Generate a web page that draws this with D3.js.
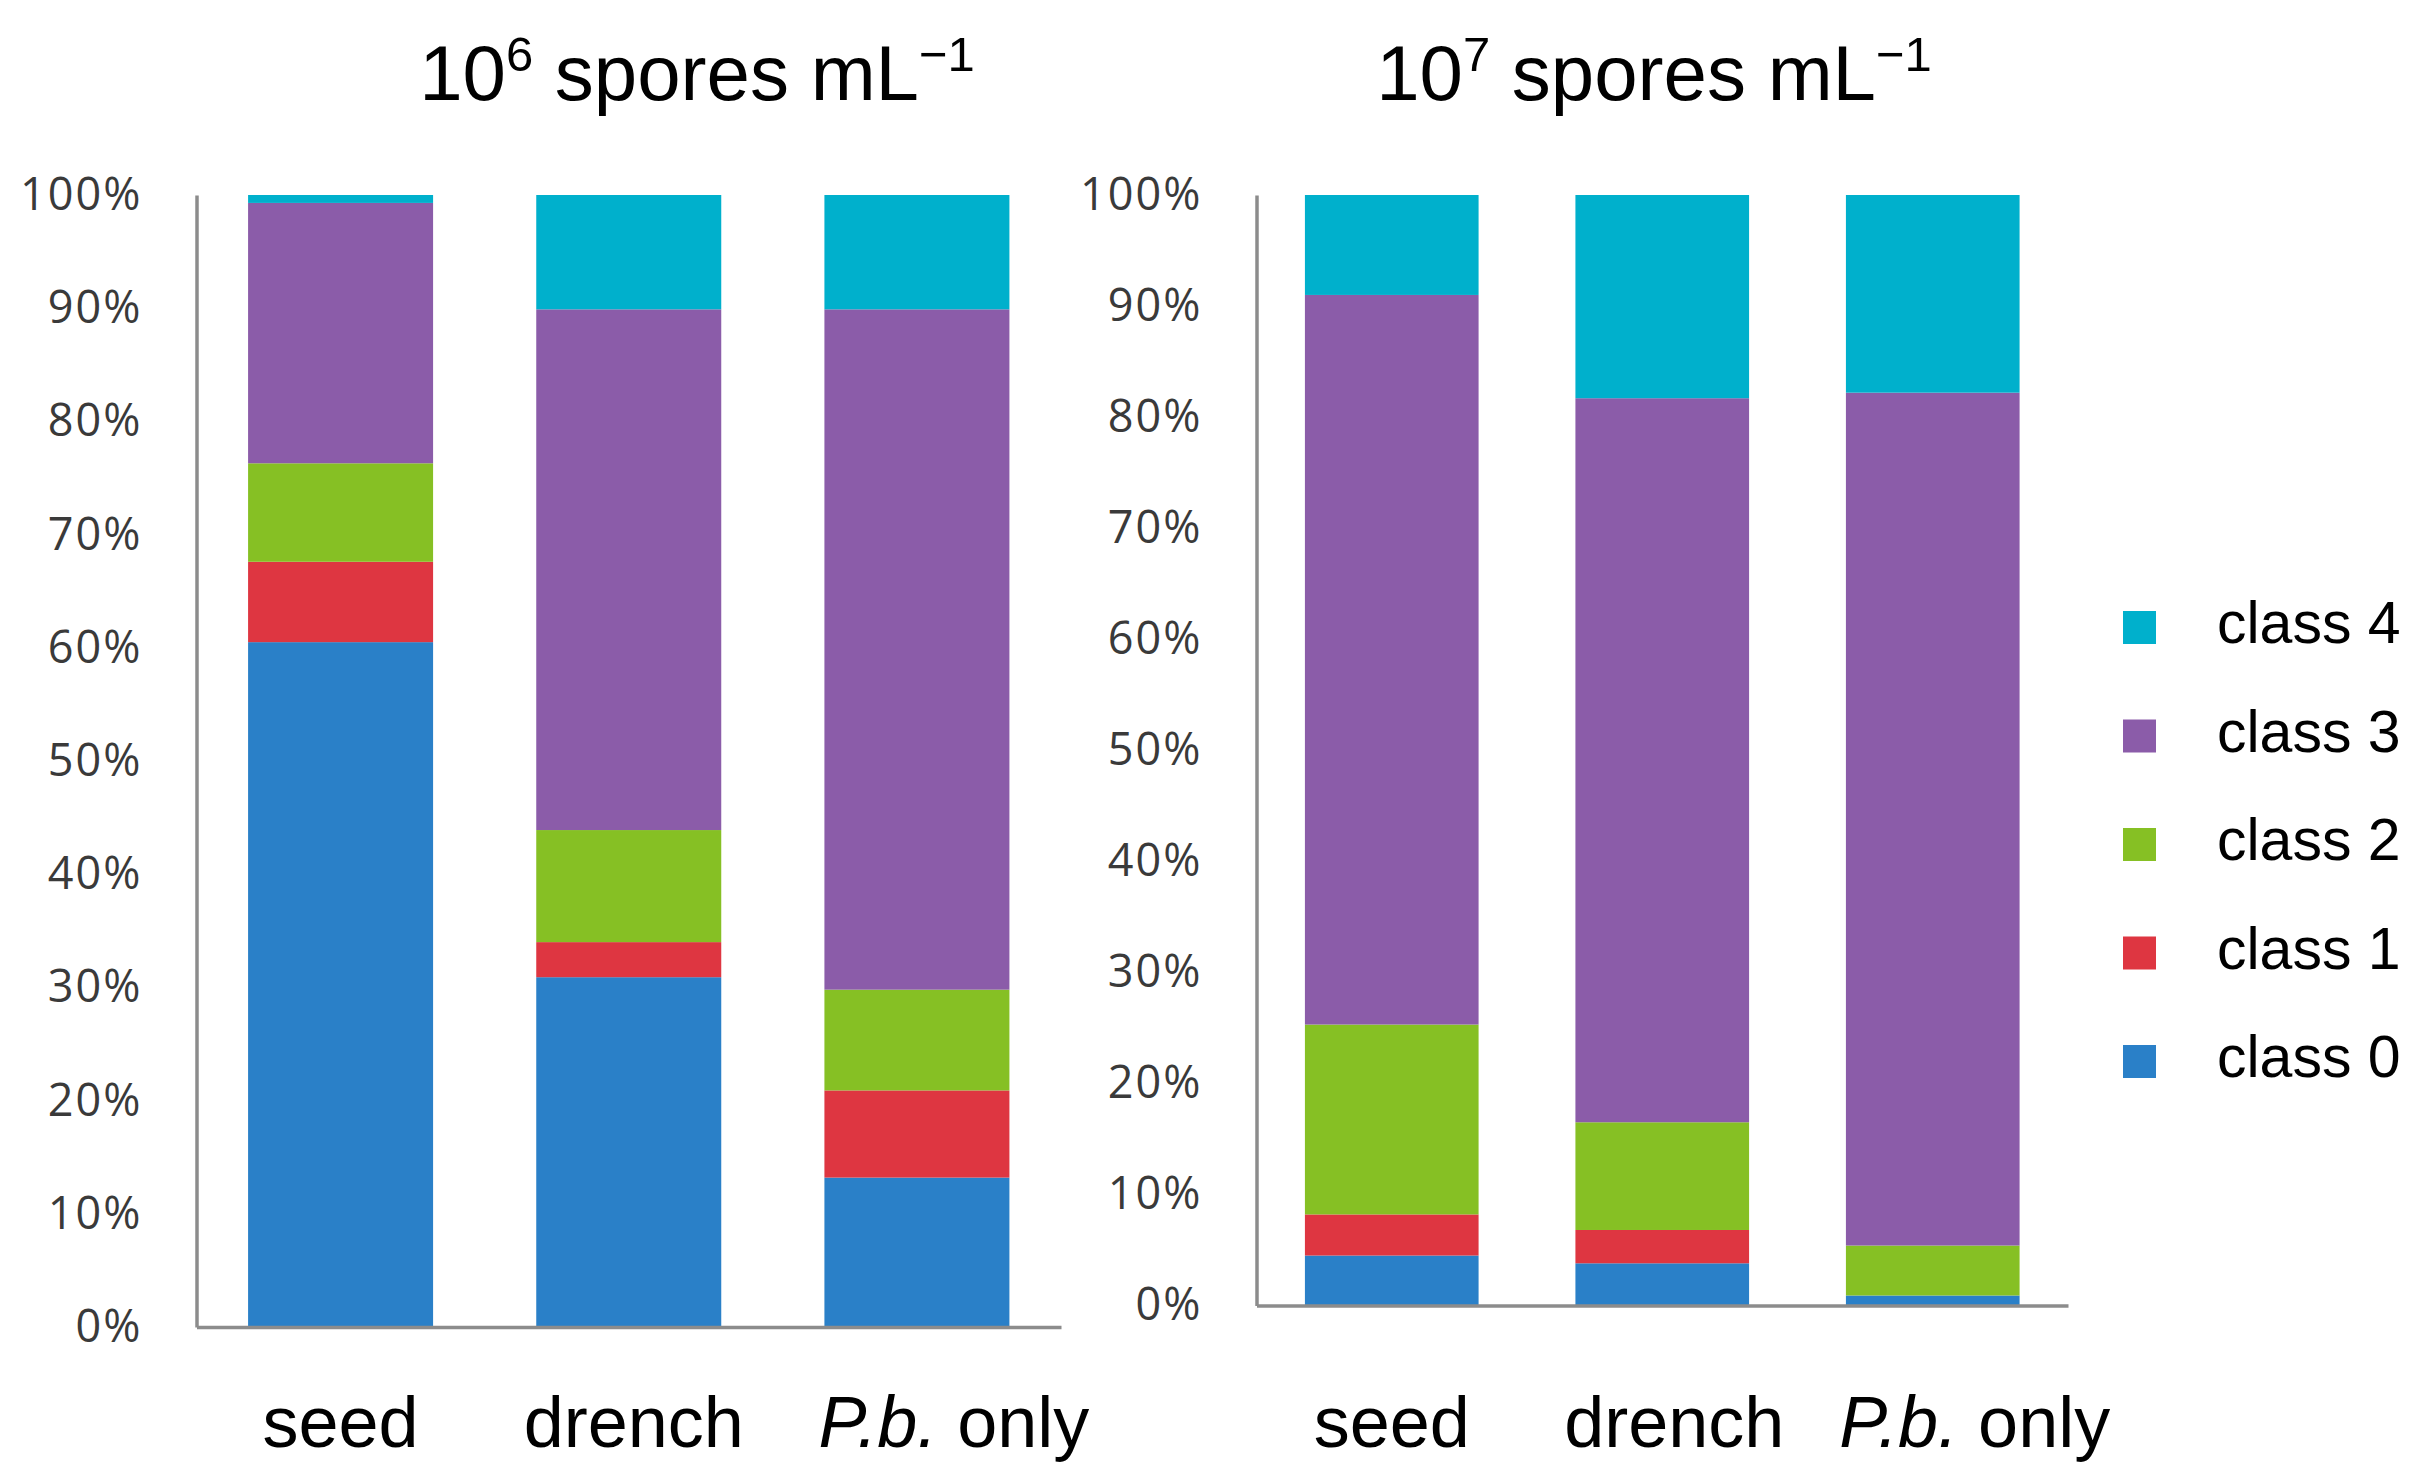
<!DOCTYPE html>
<html>
<head>
<meta charset="utf-8">
<script src="https://cdn.jsdelivr.net/npm/d3@7"></script>
<style>
  body { margin: 0; background: #fff; }
  svg { display: block; }
</style>
</head>
<body>
<svg width="2428" height="1484"></svg>
<script>
const treatments = ['seed', 'drench', 'P.b. only'];
const classes = ['class 0', 'class 1', 'class 2', 'class 3', 'class 4'];
const ticks = [0, 10, 20, 30, 40, 50, 60, 70, 80, 90, 100];

// 10^6 spores mL-1 : percent of plants in each class (seed, drench, P.b. only)
const low0 = [60.5, 30.9, 13.2];
const low1 = [7.1, 3.1, 7.7];
const low2 = [8.7, 9.9, 8.9];
const low3 = [23.0, 46.0, 60.1];
const low4 = [0.7, 10.1, 10.1];

// 10^7 spores mL-1
const high0 = [4.5, 3.8, 0.9];
const high1 = [3.7, 3.0, 0];
const high2 = [17.1, 9.7, 4.5];
const high3 = [65.7, 65.2, 76.8];
const high4 = [9.0, 18.3, 17.8];

const colors = ['#2a80c8', '#de3641', '#86c024', '#8b5ca9', '#00b0cc'];

const svg = d3.select('svg');
const color = d3.scaleOrdinal().domain(classes).range(colors);

const toRows = series => treatments.map((t, i) => {
  const r = { treatment: t };
  classes.forEach((c, k) => { r[c] = series[k][i]; });
  return r;
});

const panels = [
  { sup: '6', rows: toRows([low0, low1, low2, low3, low4]),
    left: 196.5, right: 1061, top: 195, bottom: 1327, titleX: 697, nudge: [0, 5, 37] },
  { sup: '7', rows: toRows([high0, high1, high2, high3, high4]),
    left: 1256.5, right: 2068, top: 195, bottom: 1305.5, titleX: 1654, nudge: [0, 12, 42] }
];

const stack = d3.stack().keys(classes);

panels.forEach(p => {
  const x = d3.scaleBand()
    .domain(treatments)
    .range([p.left, p.right])
    .paddingInner(0.358)
    .paddingOuter(0.179);
  const y = d3.scaleLinear()
    .domain([0, 100])
    .range([p.bottom, p.top]);

  const g = svg.append('g');

  g.selectAll('g.layer')
    .data(stack(p.rows))
    .join('g')
      .attr('class', 'layer')
      .attr('fill', d => color(d.key))
    .selectAll('rect')
    .data(d => d)
    .join('rect')
      .attr('x', d => x(d.data.treatment))
      .attr('width', x.bandwidth())
      .attr('y', d => y(d[1]))
      .attr('height', d => y(d[0]) - y(d[1]));

  // y axis
  const yAxis = d3.axisLeft(y)
    .tickValues(ticks)
    .tickFormat(d => d + '%')
    .tickSize(0)
    .tickPadding(54);
  const yAxisG = g.append('g')
    .attr('transform', `translate(${p.left},0)`)
    .call(yAxis);
  yAxisG.select('.domain')
    .attr('stroke', '#8c8c8c')
    .attr('stroke-width', 3.5);
  yAxisG.selectAll('text')
    .attr('font-family', '"Open Sans", sans-serif')
    .attr('font-size', 45)
    .attr('font-weight', 500)
    .attr('letter-spacing', 2)
    .attr('fill', '#3a3a3a');

  // x axis line
  const xAxisG = g.append('g')
    .attr('transform', `translate(0,${p.bottom})`)
    .call(d3.axisBottom(x).tickSize(0).tickFormat(''));
  xAxisG.select('.domain')
    .attr('stroke', '#8c8c8c')
    .attr('stroke-width', 3.5);

  // category labels
  const lab = g.selectAll('text.cat')
    .data(treatments)
    .join('text')
      .attr('class', 'cat')
      .attr('x', (d, i) => x(d) + x.bandwidth() / 2 + p.nudge[i])
      .attr('y', 1447)
      .attr('text-anchor', 'middle')
      .attr('font-family', '"Liberation Sans", Arial, sans-serif')
      .attr('font-size', 72)
      .attr('fill', '#000');
  lab.each(function(d) {
    const t = d3.select(this);
    if (d === 'P.b. only') {
      t.append('tspan').attr('font-style', 'italic').text('P.b.');
      t.append('tspan').text(' only');
    } else {
      t.text(d);
    }
  });

  // title
  const title = g.append('text')
    .attr('x', p.titleX)
    .attr('y', 100)
    .attr('text-anchor', 'middle')
    .attr('font-family', '"Liberation Sans", Arial, sans-serif')
    .attr('font-size', 78)
    .attr('fill', '#000');
  title.append('tspan').text('10');
  title.append('tspan').attr('font-size', 49).attr('dy', -29).text(p.sup);
  title.append('tspan').attr('dy', 29).text(' spores mL');
  title.append('tspan').attr('font-size', 49).attr('dy', -29).text('\u22121');
});

// legend (class 4 at top)
const legend = svg.append('g')
  .selectAll('g')
  .data(classes.slice().reverse())
  .join('g')
    .attr('transform', (d, i) => `translate(2123,${611 + i * 108.5})`);
legend.append('rect')
  .attr('width', 33)
  .attr('height', 33)
  .attr('fill', d => color(d));
legend.append('text')
  .attr('x', 94)
  .attr('y', 32)
  .attr('font-family', '"Liberation Sans", Arial, sans-serif')
  .attr('font-size', 59)
  .attr('fill', '#000')
  .text(d => d);
</script>
</body>
</html>
